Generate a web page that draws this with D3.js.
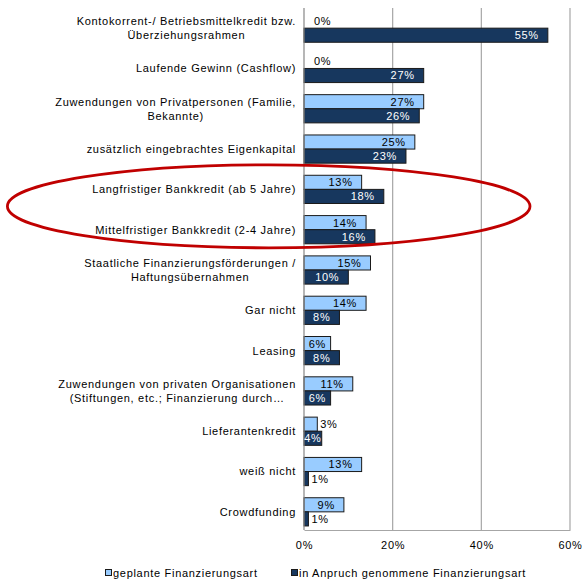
<!DOCTYPE html>
<html>
<head>
<meta charset="utf-8">
<script src="https://cdn.jsdelivr.net/npm/d3@7"></script>
<style>
  html, body { margin: 0; padding: 0; background: #fff; }
  svg { display: block; font-family: "Liberation Sans", Arial, sans-serif; }
  svg text { letter-spacing: 0.7px; }
</style>
</head>
<body>
<svg id="chart" width="582" height="581"></svg>
<script>
// Financing types (multi-line labels split on \n)
const categories = [
  "Kontokorrent-/ Betriebsmittelkredit bzw.\nÜberziehungsrahmen",
  "Laufende Gewinn (Cashflow)",
  "Zuwendungen von Privatpersonen (Familie,\nBekannte)",
  "zusätzlich eingebrachtes Eigenkapital",
  "Langfristiger Bankkredit (ab 5 Jahre)",
  "Mittelfristiger Bankkredit (2-4 Jahre)",
  "Staatliche Finanzierungsförderungen /\nHaftungsübernahmen",
  "Gar nicht",
  "Leasing",
  "Zuwendungen von privaten Organisationen\n(Stiftungen, etc.; Finanzierung durch…",
  "Lieferantenkredit",
  "weiß nicht",
  "Crowdfunding"
];
// Percent values per series
const planned = [0, 0, 27, 25, 13, 14, 15, 14, 6, 11, 3, 13, 9];
const used    = [55, 27, 26, 23, 18, 16, 10, 8, 8, 6, 4, 1, 1];
const seriesNames = ["geplante Finanzierungsart", "in Anpruch genommene Finanzierungsart"];
const xTicks = [0, 20, 40, 60];

const colors = ["#99CCFF", "#17375E"];
const labelColors = ["#000", "#fff"];

const svg = d3.select("#chart");
const plot = { left: 304, right: 570, top: 8, bottom: 530 };

const x = d3.scaleLinear().domain([0, 60]).range([plot.left, plot.right]);
const y = d3.scaleBand().domain(d3.range(categories.length))
  .range([plot.top, plot.bottom + 2]).paddingInner(0.3).paddingOuter(0.15);
const sub = d3.scaleBand().domain([0, 1]).range([0, y.bandwidth()]);

// gridlines
svg.append("g").selectAll("line").data(xTicks.filter(d => d > 0)).join("line")
  .attr("x1", d => x(d)).attr("x2", d => x(d))
  .attr("y1", plot.top).attr("y2", plot.bottom)
  .attr("stroke", "#A6A6A6").attr("stroke-width", 1.2);

// bottom axis line + tick labels
const xAxis = d3.axisBottom(x).tickValues(xTicks).tickFormat(d => d + "%").tickSize(0).tickPadding(11);
const gx = svg.append("g").attr("transform", `translate(0,${plot.bottom})`).call(xAxis);
gx.select(".domain").attr("stroke", "#A6A6A6").attr("stroke-width", 1.2);
gx.selectAll("text").attr("font-size", 11).attr("fill", "#000")
  .attr("font-family", "Liberation Sans, Arial, sans-serif");

// bars
const rows = categories.map((c, i) => ({ i, vals: [planned[i], used[i]] }));
const series = [];
rows.forEach(r => r.vals.forEach((v, s) => series.push({ i: r.i, s, v })));

const barG = svg.append("g");
barG.selectAll("rect").data(series).join("rect")
  .attr("x", x(0))
  .attr("y", d => y(d.i) + sub(d.s))
  .attr("width", d => x(d.v) - x(0))
  .attr("height", sub.bandwidth())
  .attr("fill", d => colors[d.s])
  .attr("stroke", d => d.v > 0 ? "#1a1a1a" : "none")
  .attr("stroke-width", 1);

// vertical axis line at 0
svg.append("line").attr("x1", x(0)).attr("x2", x(0))
  .attr("y1", plot.top).attr("y2", plot.bottom)
  .attr("stroke", "#868686").attr("stroke-width", 1.2);

// value labels
const valG = svg.append("g").attr("font-size", 11);
series.forEach(d => {
  const t = valG.append("text")
    .attr("y", y(d.i) + sub(d.s) + sub.bandwidth() / 2)
    .attr("dy", "0.36em")
    .text(d.v + "%");
  const tw = t.node().getComputedTextLength();
  const x0 = x(0), x1 = x(d.v), bw = x1 - x0;
  if (d.v < 4) {
    t.attr("x", x1 + (d.v === 0 ? 10 : 3)).attr("text-anchor", "start").attr("fill", "#000");
  } else if (bw >= tw + 20) {
    t.attr("x", x1 - 9).attr("text-anchor", "end").attr("fill", labelColors[d.s]);
  } else {
    t.attr("x", (x0 + x1) / 2).attr("text-anchor", "middle").attr("fill", labelColors[d.s]);
  }
});

// category labels: lines centred within a right-aligned block
const catG = svg.append("g").attr("font-size", 11).attr("fill", "#000");
const lineH = 14;
categories.forEach((c, i) => {
  const lines = c.split("\n");
  const g = catG.append("g");
  const cy = y(i) + y.bandwidth() / 2;
  const texts = lines.map((ln, k) => g.append("text")
    .attr("y", cy + (k - (lines.length - 1) / 2) * lineH)
    .attr("dy", "0.36em")
    .attr("text-anchor", "middle")
    .text(ln));
  const maxW = d3.max(texts, t => t.node().getComputedTextLength());
  texts.forEach(t => t.attr("x", 296 - maxW / 2));
});

// legend
const legend = svg.append("g").attr("font-size", 11);
const legendItems = [{ x: 105, s: 0 }, { x: 291, s: 1 }];
legendItems.forEach(li => {
  legend.append("rect").attr("x", li.x + 0.5).attr("y", 569.5).attr("width", 6).attr("height", 6)
    .attr("fill", colors[li.s]).attr("stroke", "#1a1a1a").attr("stroke-width", 1);
  legend.append("text").attr("x", li.x + 8).attr("y", 573).attr("dy", "0.36em")
    .attr("fill", "#000").text(seriesNames[li.s]);
});

// highlight ellipse around the bank-credit rows
svg.append("ellipse")
  .attr("cx", 268.7).attr("cy", 206.3).attr("rx", 261.3).attr("ry", 41.5)
  .attr("fill", "none").attr("stroke", "#C00000").attr("stroke-width", 2.8);
</script>
</body>
</html>
